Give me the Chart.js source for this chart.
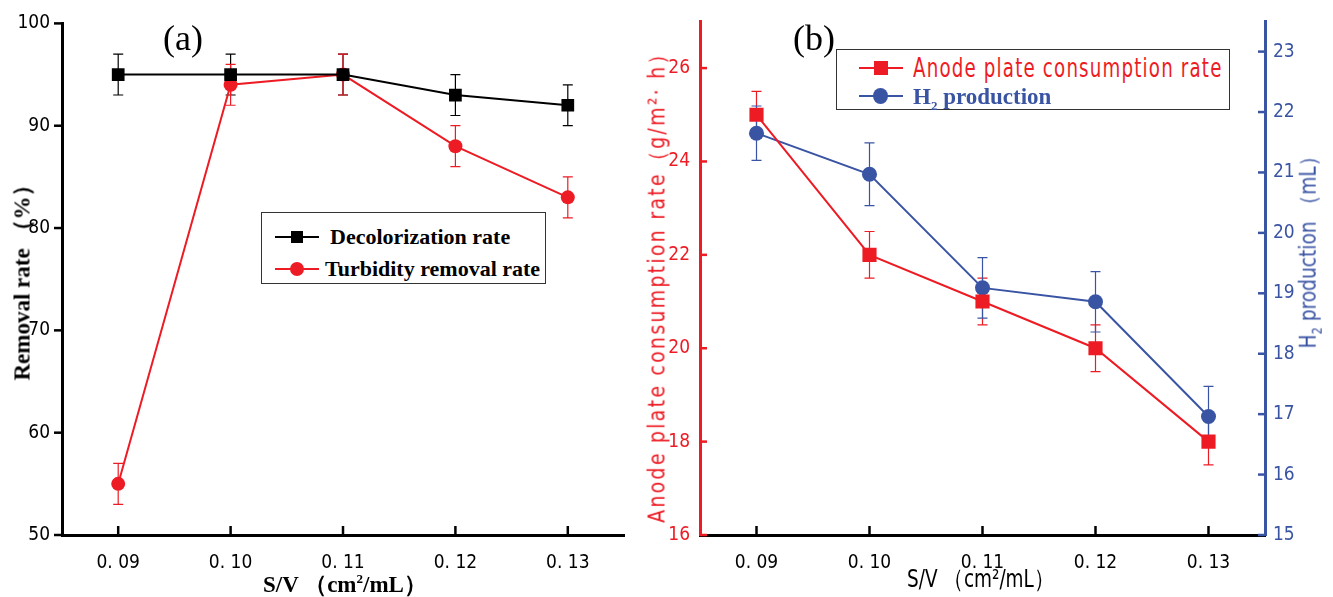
<!DOCTYPE html>
<html>
<head>
<meta charset="utf-8">
<script src="https://cdn.jsdelivr.net/npm/chart.js@4.4.1/dist/chart.umd.min.js"></script>
<style>
  body { margin: 0; background: #fff; width: 1333px; height: 597px; position: relative; overflow: hidden; }
  #wa { position: absolute; left: 0; top: 0; }
  #wb { position: absolute; left: 640px; top: 0; }
  .t { position: absolute; white-space: nowrap; line-height: 1; }
  .serif { font-family: "Liberation Serif", "DejaVu Serif", serif; }
  .bold { font-weight: bold; }
  .narrow { font-family: "Liberation Sans Narrow", "DejaVu Sans Condensed", sans-serif; }
  .rot { transform: translate(-50%, -50%) rotate(-90deg); }
  .lgd { position: absolute; border: 1px solid #333; background: #fff; }
  .row { position: absolute; left: 0; height: 20px; }
  .ln { position: absolute; left: 13px; top: 9px; width: 44px; height: 2px; }
  .mk { position: absolute; }
</style>
</head>
<body>
<canvas id="wa" width="660" height="597"></canvas>
<canvas id="wb" width="693" height="597"></canvas>

<div class="t serif" style="left:163px;top:20px;font-size:36px;">(a)</div>
<div class="t serif" style="left:793px;top:20px;font-size:36px;">(b)</div>

<div class="t serif bold rot" style="left:22px;top:277px;font-size:23px;">Removal rate （%）</div>
<div class="t serif bold" style="left:263px;top:572px;font-size:23px;">S/V （cm<sup style="font-size:13px">2</sup>/mL）</div>

<div class="t narrow rot" style="left:657px;top:282px;font-size:23px;color:#ed1c24;letter-spacing:2.4px;transform:translate(-50%,-50%) rotate(-90deg) scaleX(0.92);">Anode plate consumption rate（g/m²· h）</div>
<div class="t narrow rot" style="left:1310px;top:247px;font-size:23px;color:#3a54a4;transform:translate(-50%,-50%) rotate(-90deg) scaleX(0.9);">H<sub style="font-size:14px">2</sub> production （mL）</div>
<div class="t narrow" style="left:907px;top:566px;font-size:25px;transform:scaleX(0.82);transform-origin:0 0;">S/V （cm²/mL）</div>

<div class="lgd" style="left:261px;top:212px;width:283px;height:70px;">
  <div class="row" style="top:14px;width:283px;">
    <div class="ln" style="background:#000"></div>
    <div class="mk" style="left:29px;top:4px;width:12px;height:12px;background:#000"></div>
    <div class="t serif bold" style="left:68px;top:-1px;font-size:22px;">Decolorization rate</div>
  </div>
  <div class="row" style="top:46px;width:283px;">
    <div class="ln" style="background:#ed1c24"></div>
    <div class="mk" style="left:28px;top:3px;width:14px;height:14px;border-radius:50%;background:#ed1c24"></div>
    <div class="t serif bold" style="left:63px;top:-1px;font-size:22px;">Turbidity removal rate</div>
  </div>
</div>

<div class="lgd" style="left:836px;top:49px;width:392px;height:59px;">
  <div class="row" style="top:8px;width:392px;">
    <div class="ln" style="left:22px;background:#ed1c24"></div>
    <div class="mk" style="left:37px;top:3px;width:14px;height:14px;background:#ed1c24"></div>
    <div class="t narrow" style="left:76px;top:-3px;font-size:26px;color:#ed1c24;letter-spacing:1.5px;transform:scaleX(0.78);transform-origin:0 0;">Anode plate consumption rate</div>
  </div>
  <div class="row" style="top:36px;width:392px;">
    <div class="ln" style="left:22px;background:#3a54a4"></div>
    <div class="mk" style="left:36px;top:2px;width:15px;height:16px;border-radius:50%;background:#3a54a4"></div>
    <div class="t serif bold" style="left:76px;top:-1px;font-size:23px;color:#3a54a4;">H<sub style="font-size:13px">2</sub> production</div>
  </div>
</div>

<script>
// shared x categories
const svValues = [0.09, 0.10, 0.11, 0.12, 0.13];
const svLabels = ['0. 09', '0. 10', '0. 11', '0. 12', '0. 13'];

// (a) removal rates, %
const decolorization = [95, 95, 95, 93, 92];
const decolorizationErr = [2, 2, 2, 2, 2];
const turbidity = [55, 94, 95, 88, 83];
const turbidityErr = [2, 2, 2, 2, 2];
const removalTicks = [50, 60, 70, 80, 90, 100];

// (b) anode consumption (g/m2 h) and H2 volume (mL)
const anodeRate = [25, 22, 21, 20, 18];
const anodeErr = [0.5, 0.5, 0.5, 0.5, 0.5];
const h2Volume = [21.65, 20.97, 19.09, 18.86, 16.96];
const h2Err = [0.45, 0.52, 0.5, 0.5, 0.5];
const anodeTicks = [16, 18, 20, 22, 24, 26];
const h2Ticks = [15, 16, 17, 18, 19, 20, 21, 22, 23];

const RED = '#ed1c24';
const BLUE = '#3a54a4';
const tickFont = { family: '"Liberation Sans Narrow", "DejaVu Sans Condensed", sans-serif', size: 19 };

function pts(ys) {
  return svValues.map((x, i) => ({ x: x, y: ys[i] }));
}

// draws tick marks (inside or outside) for the listed axes
function tickMarks(cfg) {
  return {
    id: 'tickMarks',
    afterDraw(chart) {
      const ctx = chart.ctx;
      ctx.save();
      cfg.forEach(o => {
        const s = chart.scales[o.axis];
        ctx.strokeStyle = o.color;
        ctx.lineWidth = 2.5;
        s.ticks.forEach(t => {
          const p = s.getPixelForValue(t.value);
          ctx.beginPath();
          if (s.isHorizontal()) {
            ctx.moveTo(p, s.top);
            ctx.lineTo(p, s.top + (o.inside ? -o.len : o.len));
          } else {
            const left = s.position === 'left';
            const x = left ? s.right : s.left;
            const sign = left ? (o.inside ? 1 : -1) : (o.inside ? -1 : 1);
            ctx.moveTo(x, p);
            ctx.lineTo(x + sign * o.len, p);
          }
          ctx.stroke();
        });
      });
      ctx.restore();
    }
  };
}

function errorBars(cfg) {
  return {
    id: 'errorBars',
    beforeDatasetsDraw(chart) {
      const ctx = chart.ctx;
      const xs = chart.scales.x;
      ctx.save();
      cfg.forEach(o => {
        const ys = chart.scales[o.axis];
        ctx.strokeStyle = o.color;
        ctx.lineWidth = 1.2;
        o.values.forEach((v, i) => {
          const px = xs.getPixelForValue(svValues[i]);
          const top = ys.getPixelForValue(v + o.err[i]);
          const bot = ys.getPixelForValue(v - o.err[i]);
          ctx.beginPath();
          ctx.moveTo(px, top); ctx.lineTo(px, bot);
          ctx.moveTo(px - 5, top); ctx.lineTo(px + 5, top);
          ctx.moveTo(px - 5, bot); ctx.lineTo(px + 5, bot);
          ctx.stroke();
        });
      });
      ctx.restore();
    }
  };
}

function xAxis() {
  return {
    type: 'linear', position: 'bottom', min: 0.085, max: 0.135,
    afterBuildTicks: s => { s.ticks = svValues.map(v => ({ value: v })); },
    afterFit: s => { s.height = 62; },
    grid: { display: false, drawTicks: false },
    border: { display: true, color: '#000', width: 3 },
    ticks: {
      color: '#000', font: tickFont, padding: 17, maxRotation: 0, autoSkip: false,
      callback: (v, i) => svLabels[i]
    }
  };
}

new Chart(document.getElementById('wa'), {
  type: 'line',
  data: {
    datasets: [
      {
        label: 'Decolorization rate', data: pts(decolorization),
        borderColor: '#000', backgroundColor: '#000', borderWidth: 2,
        pointStyle: 'rect', pointRadius: 9, pointBorderWidth: 0
      },
      {
        label: 'Turbidity removal rate', data: pts(turbidity),
        borderColor: RED, backgroundColor: RED, borderWidth: 2,
        pointStyle: 'circle', pointRadius: 7, pointBorderWidth: 0
      }
    ]
  },
  options: {
    responsive: false, animation: false,
    layout: { padding: { top: 20, right: 36, left: 0, bottom: 0 } },
    plugins: { legend: { display: false }, tooltip: { enabled: false } },
    scales: {
      x: xAxis(),
      y: {
        min: 50, max: 100,
        afterBuildTicks: s => { s.ticks = removalTicks.map(v => ({ value: v })); },
        afterFit: s => { s.width = 62; },
        grid: { display: false, drawTicks: false },
        border: { display: true, color: '#000', width: 3 },
        ticks: { color: '#000', font: tickFont, padding: 12 }
      }
    }
  },
  plugins: [
    tickMarks([{ axis: 'x', inside: true, len: 9, color: '#000' }, { axis: 'y', inside: false, len: 8, color: '#000' }]),
    errorBars([
      { axis: 'y', values: decolorization, err: decolorizationErr, color: '#000' },
      { axis: 'y', values: turbidity, err: turbidityErr, color: RED }
    ])
  ]
});

new Chart(document.getElementById('wb'), {
  type: 'line',
  data: {
    datasets: [
      {
        label: 'Anode plate consumption rate', data: pts(anodeRate), yAxisID: 'yL',
        borderColor: RED, backgroundColor: RED, borderWidth: 2,
        pointStyle: 'rect', pointRadius: 10, pointBorderWidth: 0
      },
      {
        label: 'H2 production', data: pts(h2Volume), yAxisID: 'yR',
        borderColor: BLUE, backgroundColor: BLUE, borderWidth: 2,
        pointStyle: 'circle', pointRadius: 7.5, pointBorderWidth: 0
      }
    ]
  },
  options: {
    responsive: false, animation: false,
    layout: { padding: { top: 19, right: 0, left: 0, bottom: 0 } },
    plugins: { legend: { display: false }, tooltip: { enabled: false } },
    scales: {
      x: xAxis(),
      yL: {
        position: 'left', min: 16, max: 27,
        afterBuildTicks: s => { s.ticks = anodeTicks.map(v => ({ value: v })); },
        afterFit: s => { s.width = 60; },
        grid: { display: false, drawTicks: false },
        border: { display: true, color: RED, width: 3 },
        ticks: { color: RED, font: tickFont, padding: 10 }
      },
      yR: {
        position: 'right', min: 15, max: 23.5,
        afterBuildTicks: s => { s.ticks = h2Ticks.map(v => ({ value: v })); },
        afterFit: s => { s.width = 68; },
        grid: { display: false, drawTicks: false },
        border: { display: true, color: BLUE, width: 3 },
        ticks: { color: BLUE, font: tickFont, padding: 8 }
      }
    }
  },
  plugins: [
    tickMarks([
      { axis: 'x', inside: true, len: 9, color: '#000' },
      { axis: 'yL', inside: true, len: 7, color: RED },
      { axis: 'yR', inside: true, len: 7, color: BLUE }
    ]),
    errorBars([
      { axis: 'yL', values: anodeRate, err: anodeErr, color: RED },
      { axis: 'yR', values: h2Volume, err: h2Err, color: BLUE }
    ])
  ]
});
</script>
</body>
</html>
